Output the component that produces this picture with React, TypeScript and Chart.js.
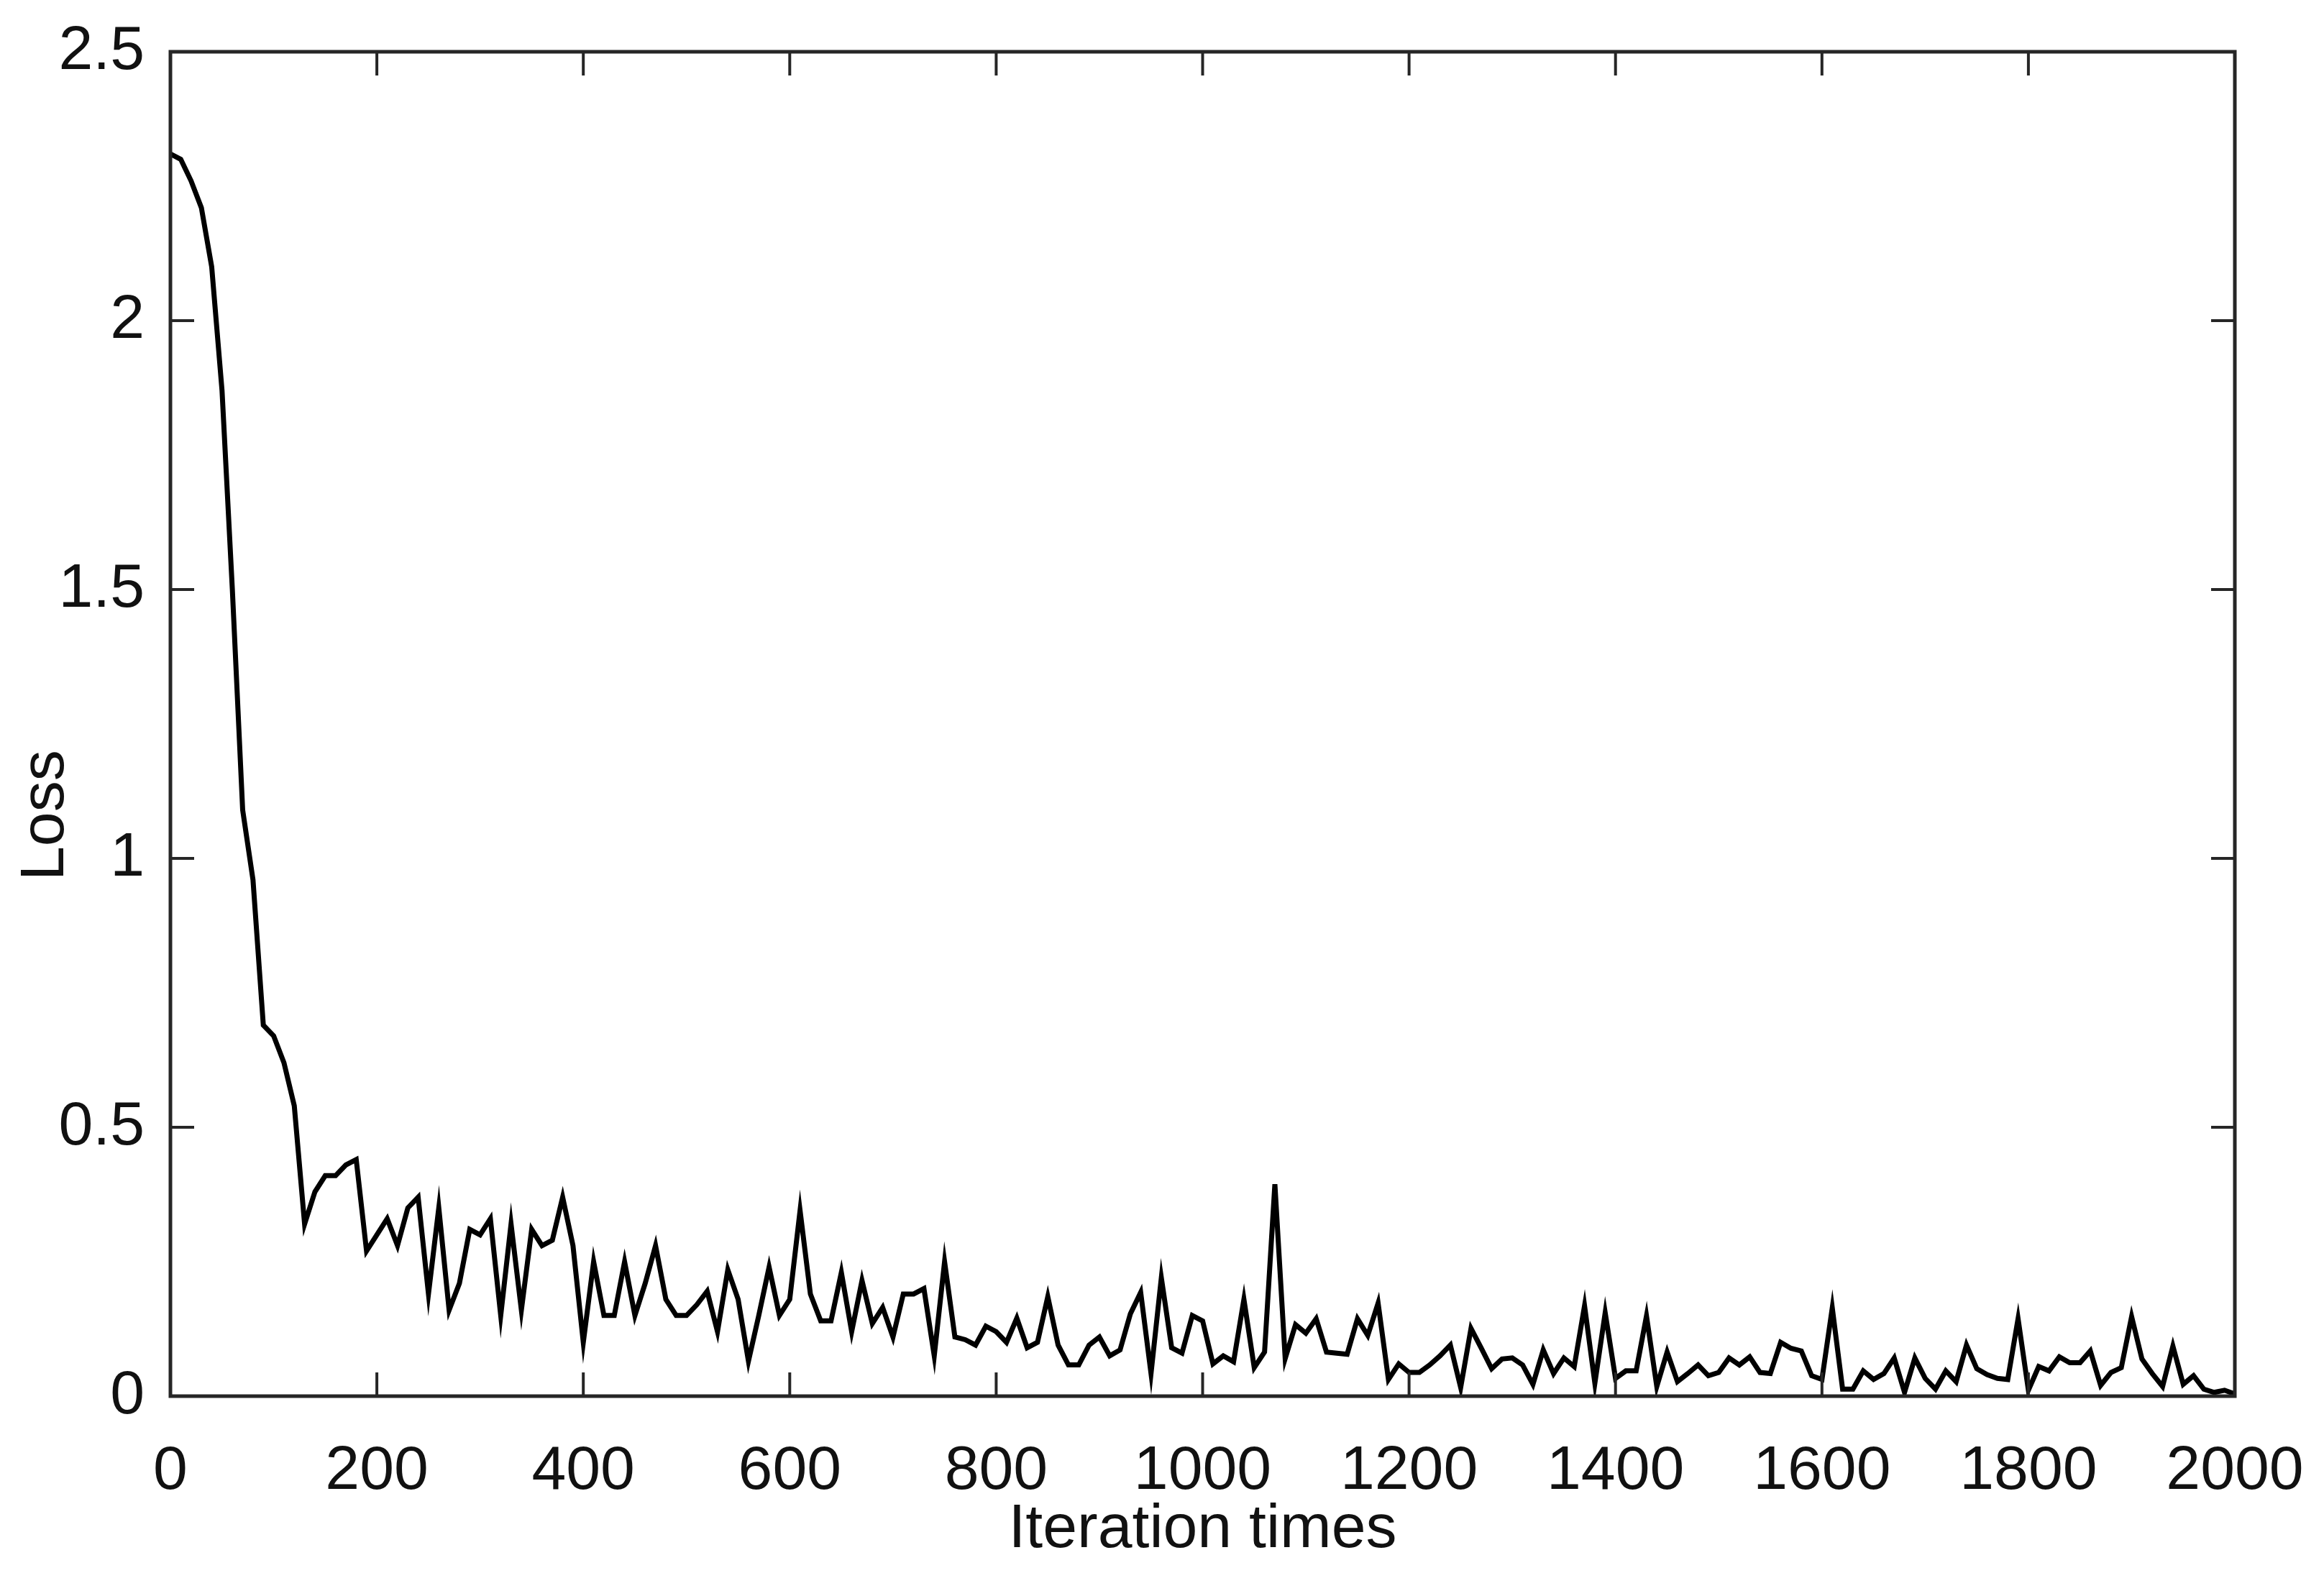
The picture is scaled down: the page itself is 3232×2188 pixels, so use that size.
import React, { useEffect, useRef } from "react";
import { Chart, registerables } from "chart.js";

Chart.register(...registerables);

// Sample spacing of the recorded loss (iterations between samples)
const ITER_STEP = 10;

// Loss values, one every 10 iterations
const lossEarly = [2.31, 2.3, 2.26, 2.21, 2.1, 1.87, 1.5, 1.09, 0.96, 0.69, 0.67, 0.62, 0.54, 0.32, 0.38, 0.41, 0.41, 0.43, 0.44, 0.27];
const loss200to590 = [0.3, 0.33, 0.28, 0.35, 0.37, 0.19, 0.35, 0.16, 0.21, 0.31, 0.3, 0.33, 0.15, 0.32, 0.16, 0.31, 0.28, 0.29, 0.37, 0.28, 0.1, 0.25, 0.15, 0.15, 0.25, 0.15, 0.21, 0.28, 0.18, 0.15, 0.15, 0.17, 0.195, 0.12, 0.235, 0.18, 0.065, 0.15, 0.24, 0.15];
const loss600to990 = [0.18, 0.345, 0.19, 0.14, 0.14, 0.23, 0.12, 0.215, 0.135, 0.165, 0.11, 0.19, 0.19, 0.2, 0.075, 0.25, 0.11, 0.105, 0.095, 0.13, 0.12, 0.1, 0.145, 0.09, 0.1, 0.185, 0.095, 0.058, 0.058, 0.095, 0.11, 0.075, 0.086, 0.153, 0.193, 0.042, 0.22, 0.09, 0.08, 0.15];
const loss1000to1390 = [0.14, 0.06, 0.075, 0.064, 0.18, 0.053, 0.082, 0.394, 0.07, 0.133, 0.117, 0.144, 0.082, 0.08, 0.078, 0.144, 0.113, 0.173, 0.031, 0.06, 0.044, 0.044, 0.058, 0.075, 0.095, 0.016, 0.126, 0.089, 0.051, 0.069, 0.071, 0.058, 0.022, 0.086, 0.042, 0.071, 0.055, 0.168, 0.024, 0.155];
const loss1400to1790 = [0.033, 0.047, 0.047, 0.149, 0.018, 0.082, 0.027, 0.042, 0.058, 0.038, 0.044, 0.071, 0.058, 0.073, 0.044, 0.042, 0.1, 0.089, 0.084, 0.038, 0.031, 0.164, 0.013, 0.013, 0.047, 0.031, 0.042, 0.071, 0.007, 0.071, 0.033, 0.013, 0.047, 0.027, 0.095, 0.051, 0.04, 0.033, 0.031, 0.144];
const loss1800to2000 = [0.011, 0.055, 0.047, 0.073, 0.062, 0.062, 0.084, 0.02, 0.044, 0.053, 0.148, 0.069, 0.042, 0.018, 0.093, 0.022, 0.038, 0.013, 0.007, 0.011, 0.004];

// Axis ranges / ticks
const xMin = 0;
const xMax = 2000;
const xStep = 200;
const yMin = 0;
const yMax = 2.5;
const yStep = 0.5;

const xTitle = "Iteration times";
const yTitle = "Loss";

const FONT = "'Liberation Sans', Arial, sans-serif";
const INK = "#111111";
const FRAME = "#262626";

const frameAndTicksPlugin = {
  id: "frameAndTicks",
  afterDraw(chart: any) {
    const { ctx, chartArea, scales } = chart;
    const { left, right, top, bottom } = chartArea;
    const xs = scales.x;
    const ys = scales.y;
    const TICK = 33;
    ctx.save();
    ctx.strokeStyle = FRAME;
    ctx.lineWidth = 4;
    ctx.beginPath();
    xs.ticks.forEach((t: any) => {
      const px = xs.getPixelForValue(t.value);
      ctx.moveTo(px, bottom);
      ctx.lineTo(px, bottom - TICK);
      ctx.moveTo(px, top);
      ctx.lineTo(px, top + TICK);
    });
    ys.ticks.forEach((t: any) => {
      const py = ys.getPixelForValue(t.value);
      ctx.moveTo(left, py);
      ctx.lineTo(left + TICK, py);
      ctx.moveTo(right, py);
      ctx.lineTo(right - TICK, py);
    });
    ctx.stroke();
    ctx.lineWidth = 5;
    ctx.strokeRect(left, top, right - left, bottom - top);

    // y-axis title, placed a little below the axis centre as in the reference
    const cy = top + (bottom - top) * 0.568;
    ctx.translate(64, cy);
    ctx.rotate(-Math.PI / 2);
    ctx.fillStyle = INK;
    ctx.font = `86px ${FONT}`;
    ctx.textAlign = "center";
    ctx.textBaseline = "middle";
    ctx.fillText(yTitle, 0, 0);
    ctx.restore();
  },
};

export default function App() {
  const canvasRef = useRef<HTMLCanvasElement | null>(null);

  useEffect(() => {
    const canvas = canvasRef.current;
    if (!canvas) return;
    const allLoss = [
      ...lossEarly,
      ...loss200to590,
      ...loss600to990,
      ...loss1000to1390,
      ...loss1400to1790,
      ...loss1800to2000,
    ];
    const points = allLoss.map((v, i) => ({ x: i * ITER_STEP, y: v }));

    const chart = new Chart(canvas, {
      type: "line",
      data: {
        datasets: [
          {
            data: points,
            borderColor: "#000000",
            borderWidth: 7,
            pointRadius: 0,
            tension: 0,
            fill: false,
            borderJoinStyle: "miter",
          },
        ],
      },
      options: {
        animation: false,
        responsive: true,
        maintainAspectRatio: false,
        layout: { padding: { left: 0, right: 124, top: 72, bottom: 0 } },
        plugins: {
          legend: { display: false },
          tooltip: { enabled: false },
        },
        scales: {
          x: {
            type: "linear",
            min: xMin,
            max: xMax,
            grid: { display: false, drawTicks: false },
            border: { display: false },
            ticks: {
              stepSize: xStep,
              padding: 54,
              color: INK,
              font: { family: FONT, size: 86 },
              maxRotation: 0,
              autoSkip: false,
              callback: (v: any) => String(v),
            },
            title: {
              display: true,
              text: xTitle,
              color: INK,
              font: { family: FONT, size: 86 },
              padding: { top: 0, bottom: 8 },
            },
            afterFit: (scale: any) => {
              scale.height = 246;
              scale.paddingLeft = 0;
              scale.paddingRight = 0;
            },
          },
          y: {
            type: "linear",
            min: yMin,
            max: yMax,
            grid: { display: false, drawTicks: false },
            border: { display: false },
            ticks: {
              stepSize: yStep,
              padding: 36,
              color: INK,
              font: { family: FONT, size: 86 },
              callback: (v: any) => String(v),
            },
            title: { display: false },
            afterFit: (scale: any) => {
              scale.width = 237;
              scale.paddingTop = 0;
              scale.paddingBottom = 0;
            },
          },
        },
      },
      plugins: [frameAndTicksPlugin],
    });

    return () => {
      chart.destroy();
    };
  }, []);

  return (
    <div
      style={{
        position: "fixed",
        left: 0,
        top: 0,
        width: 3232,
        height: 2188,
        background: "#ffffff",
      }}
    >
      <canvas ref={canvasRef} />
    </div>
  );
}
